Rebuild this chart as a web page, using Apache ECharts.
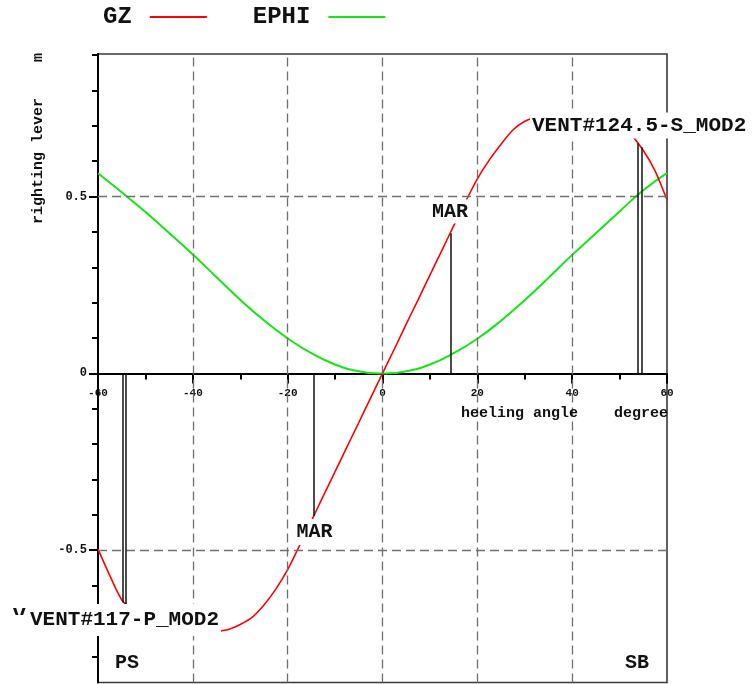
<!DOCTYPE html>
<html><head><meta charset="utf-8">
<script src="https://cdn.jsdelivr.net/npm/echarts@6/dist/echarts.min.js"></script>
<style>html,body{margin:0;padding:0;background:#fff}#c{width:756px;height:684px}</style>
</head><body><div id="c"></div>
<script>
const FONT = '"Liberation Mono", "DejaVu Sans Mono", monospace';

// heeling angles (deg) and righting lever GZ (m)
const gzAngles = [-60,-57.5,-55,-52.5,-50,-47.5,-45,-42.5,-40,-37.5,-35,-32.5,-30,-27.5,-25,-22.5,-20,-17.5,-15,-12.5,-10,-7.5,-5,-2.5,0,
  2.5,5,7.5,10,12.5,15,17.5,20,22.5,25,27.5,30,32.5,35,37.5,40,42.5,45,47.5,50,52.5,55,57.5,60];
const gzValues = [-0.497,-0.572,-0.64,-0.672,-0.693,-0.709,-0.72,-0.727,-0.73,-0.73,-0.729,-0.724,-0.71,-0.69,-0.655,-0.61,-0.555,-0.487,-0.417,-0.347,-0.278,-0.208,-0.139,-0.069,0,
  0.069,0.139,0.208,0.278,0.347,0.417,0.485,0.55,0.603,0.648,0.688,0.713,0.725,0.729,0.73,0.73,0.727,0.72,0.71,0.695,0.673,0.63,0.572,0.49];

// EPHI curve
const ephiAngles = [-60,-55,-50,-45,-40,-35,-30,-25,-20,-15,-10,-5,0,5,10,15,20,25,30,35,40,45,50,55,60];
const ephiValues = [0.566,0.512,0.456,0.397,0.336,0.272,0.208,0.15,0.099,0.057,0.025,0.006,0,0.006,0.025,0.057,0.098,0.149,0.207,0.27,0.335,0.396,0.458,0.518,0.566];

// vertical marker lines (angle, GZ at that angle)
const markerAngles = [-54.8,-54.1,-14.4,14.45,53.9,54.7];
const markerLevels = [-0.648,-0.655,-0.403,0.396,0.651,0.639];

// axis ticks / labels
const yMinorTicks = [-0.8,-0.7,-0.6,-0.5,-0.4,-0.3,-0.2,-0.1,0,0.1,0.2,0.3,0.4,0.5,0.6,0.7,0.8,0.9];
const yMajorTicks = [-0.5,0,0.5];
const yLabelValues = [-0.5,0,0.5];
const gridXs = [-40,-20,0,20,40];
const gridYs = [-0.5,0.5];

const chart = echarts.init(document.getElementById('c'), null, {renderer:'canvas'});
const black = '#000';
const tickFont = {fontSize:11, fontWeight:'bold', fontFamily:FONT, color:'#111'};
const GRID_BOTTOM = 1.5, CHART_H = 684;

function txt(text, x, y, size, extra) {
  return Object.assign({
    type:'text', x:x, y:y, z:100, silent:true,
    style:Object.assign({text:text, font:'bold ' + size + 'px ' + FONT, fill:'#111',
      align:'left', verticalAlign:'middle'}, extra && extra.style || {})
  }, extra && extra.el || {});
}

const option = {
  animation:false,
  grid:{left:98, right:89, top:54, bottom:GRID_BOTTOM, show:true, borderColor:'#3a3a3a', borderWidth:1.6,
    backgroundColor:'transparent', containLabel:false, outerBoundsMode:'none'},
  legend:{
    data:[{name:'GZ', icon:'rect'},{name:'EPHI', icon:'rect'}],
    left:98, top:0, itemWidth:57, itemHeight:2, itemGap:46, align:'right',
    textStyle:{fontSize:24, fontWeight:'bold', fontFamily:FONT, color:'#111', padding:[0,13,0,0]}
  },
  xAxis:{
    type:'value', min:-60, max:60, interval:20, position:'bottom', offset:0,
    axisLine:{onZero:false, lineStyle:{color:black, width:2}},
    axisTick:{length:10, lineStyle:{color:black, width:2}},
    minorTick:{show:true, splitNumber:2, length:6, lineStyle:{color:black, width:2}},
    axisLabel:Object.assign({margin:14}, tickFont),
    splitLine:{show:false}
  },
  yAxis:[{
    type:'value', min:-0.874, max:0.903,
    axisLine:{show:true, onZero:false, lineStyle:{color:black, width:2}},
    axisTick:{show:true, length:6, customValues:yMinorTicks, lineStyle:{color:black, width:2}},
    axisLabel:Object.assign({customValues:yLabelValues, margin:11, fontSize:12}, {fontWeight:'bold', fontFamily:FONT, color:'#111'}),
    splitLine:{show:false}
  },{
    type:'value', min:-0.874, max:0.903, position:'left',
    axisLine:{show:false, onZero:false},
    axisTick:{show:true, length:9, customValues:yMajorTicks, lineStyle:{color:black, width:2}},
    axisLabel:{show:false}, splitLine:{show:false}
  }],
  series:[
    {
      name:'grid', type:'line', data:[], z:1, silent:true,
      markLine:{silent:true, symbol:['none','none'], label:{show:false},
        lineStyle:{type:[9,5], color:'#6f6f6f', width:1.3},
        data:gridXs.map(v => ({xAxis:v})).concat(gridYs.map(v => ({yAxis:v})))}
    },
    {
      name:'EPHI', type:'line', symbol:'none', smooth:true, color:'#14e614',
      lineStyle:{color:'#14e614', width:2}, z:3,
      data:ephiAngles.map((a,i) => [a, ephiValues[i]])
    },
    {
      name:'GZ', type:'line', symbol:'none', smooth:0.3, color:'#ff0000',
      lineStyle:{color:'#ff0000', width:1.6}, z:4,
      data:gzAngles.map((a,i) => [a, gzValues[i]])
    },
    {
      name:'markers', type:'line', data:[], z:5, silent:true,
      markLine:{silent:true, symbol:['none','none'], label:{show:false},
        lineStyle:{type:'solid', color:'#111', width:1.5},
        data:markerAngles.map((a,i) => [{coord:[a,0]},{coord:[a,markerLevels[i]]}])}
    }
  ],
  graphic:[
    txt('righting lever    m', 38, 53, 15, {el:{rotation:Math.PI/2}, style:{align:'right'}}),
    txt('heeling angle    degree', 668, 413, 15, {style:{align:'right'}}),
    txt('V', 13, 616, 21, {el:{z:98}}),
    {type:'rect', z:99, silent:true, shape:{x:8, y:615, width:22, height:24}, style:{fill:'#fff'}},
    txt('VENT#117-P_MOD2', 28, 620, 21, {style:{backgroundColor:'#fff', lineHeight:18, padding:[5,2,9,2]}}),
    txt('VENT#124.5-S_MOD2', 530, 125.5, 21, {style:{backgroundColor:'#fff', lineHeight:22, padding:[2,2,2,2]}}),
    txt('MAR', 450, 211.5, 20, {style:{align:'center', backgroundColor:'#fff', lineHeight:20, padding:[2,2,2,2]}}),
    txt('MAR', 314.5, 532, 20, {style:{align:'center', backgroundColor:'#fff', lineHeight:20, padding:[4,2,2,2]}}),
    txt('PS', 115, 663, 20),
    txt('SB', 625, 663, 20)
  ]
};
chart.setOption(option);
// move the x axis (line, ticks, labels) up to the zero level of the y axis
const zeroPx = chart.convertToPixel({yAxisIndex:0}, 0);
chart.setOption({xAxis:{offset: zeroPx - (CHART_H - GRID_BOTTOM)}});
</script></body></html>
